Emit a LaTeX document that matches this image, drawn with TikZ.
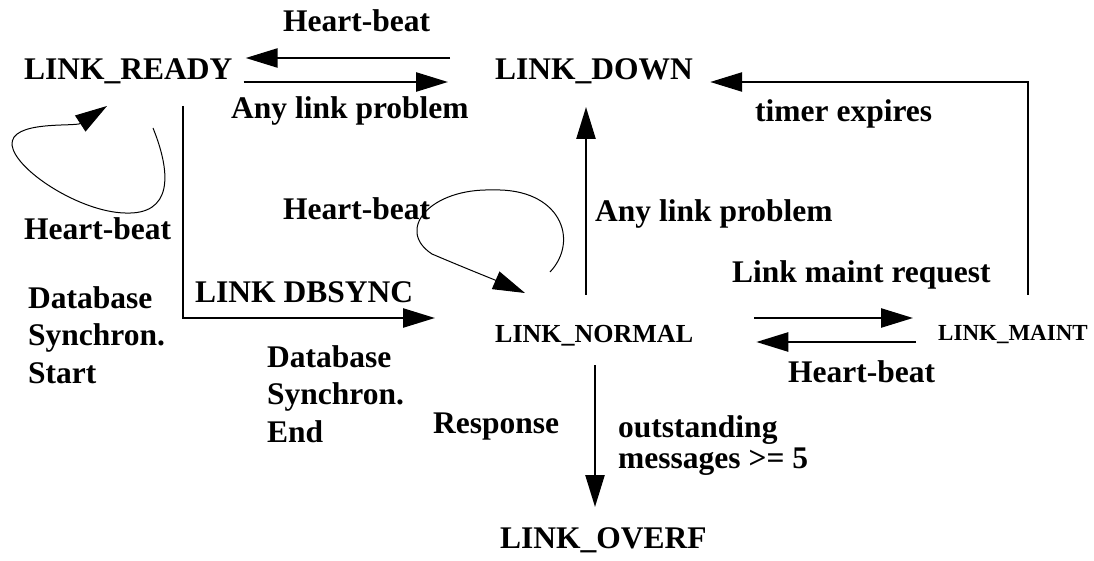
\documentclass[tikz,border=0pt]{standalone}
\usepackage{fontspec}
\setmainfont{Liberation Serif}
\usetikzlibrary{calc,arrows.meta}

\tikzset{
  stnode/.style={inner sep=0pt, anchor=base west, font=\bfseries\fontsize{31.5}{37.5}\selectfont},
  lbl/.style={inner sep=0pt, anchor=base west, align=left, font=\bfseries\fontsize{31.5}{37.5}\selectfont},
  flow/.style={line width=2.5pt, -{Triangle[length=32pt,width=19pt]}},
  loopline/.style={line width=1pt, -{Triangle[length=32pt,width=19pt]}},
}

\begin{document}
\begin{tikzpicture}[x=1pt,y=1pt]
	\useasboundingbox (0,0) rectangle (1094,560);
	
	%%%%% states %%%%%
	\node[stnode] (ready) at (24,480) {LINK\_READY};
	\node[stnode] (down) at (495,480) {LINK\_DOWN};
	\node[stnode, font=\bfseries\fontsize{26}{30}\selectfont] (normal) at (495,218) {LINK\_NORMAL};
	\node[stnode, font=\bfseries\fontsize{23}{27}\selectfont] (maint) at (938,220) {LINK\_MAINT};
	\node[stnode] (overf) at (500,12) {LINK\_OVERF};
	
	%%%%% labels (multi-line ones sit on their last line) %%%%%
	\node[lbl] (hbtop) at (283,528) {Heart-beat};
	\node[lbl] (probtop) at (231,441) {Any link problem};
	\node[lbl] (timer) at (755,438) {timer expires};
	\node[lbl] (hbmid) at (283,340) {Heart-beat};
	\node[lbl] (probmid) at (595,338) {Any link problem};
	\node[lbl] (hbleft) at (24,320) {Heart-beat};
	\node[lbl] (dbsync) at (195,257) {LINK DBSYNC};
	\node[lbl] (dbstart) at (28,177) {Database\\Synchron.\\Start};
	\node[lbl] (dbend) at (267,118) {Database\\Synchron.\\End};
	\node[lbl] (maintreq) at (732,277) {Link maint request};
	\node[lbl] (hbmaint) at (788,178) {Heart-beat};
	\node[lbl] (resp) at (433,127) {Response};
	\node[lbl, font=\bfseries\fontsize{31.5}{31}\selectfont] (outst) at (618,92) {outstanding\\messages >= 5};
	
	%%%%% transitions %%%%%
	\draw[flow] ($(down.base west)+(-45,22)$) -- ($(ready.base east)+(13,22)$);
	\draw[flow] ($(ready.base east)+(11,-2)$) -- ($(down.base west)+(-47,-2)$);
	\draw[flow] ($(maint.base west)+(90,45)$) |- ($(down.base east)+(17,-2)$);
	\draw[flow] ($(normal.base west)+(91,47)$) -- ($(down.base west)+(91,-27)$);
	\draw[flow] ($(ready.base west)+(159,-26)$) |- ($(normal.base west)+(-60,24)$);
	\draw[flow] ($(normal.base east)+(61,24)$) -- ($(maint.base west)+(-25,22)$);
	\draw[flow] ($(maint.base west)+(-22,-2)$) -- ($(normal.base east)+(63,0)$);
	\draw[flow] ($(normal.base west)+(100,-23)$) -- ($(overf.base west)+(95,41)$);
	
	%%%%% self loops %%%%%
	\draw[loopline] ($(ready.base west)+(129,-48)$) .. controls (172,385) and (172,345) .. (125,347)
		.. controls (80,348) and (15,390) .. (12,415)
		.. controls (10,440) and (75,433) .. ($(ready.base west)+(83,-26)$);
	\draw[loopline] ($(normal.base west)+(55,70)$) .. controls (580,320) and (560,372) .. (493,370)
		.. controls (430,372) and (395,330) .. (432,306)
		.. controls (460,294) and (495,280) .. ($(normal.base west)+(30,49)$);
\end{tikzpicture}
\end{document}
